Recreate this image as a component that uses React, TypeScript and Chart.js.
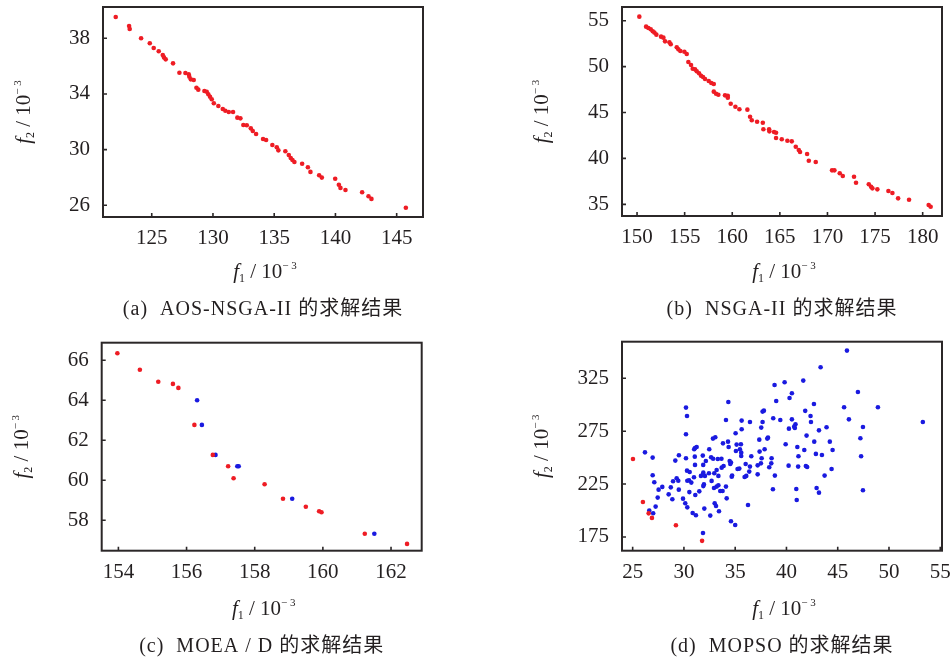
import React, { useEffect, useRef } from "react";
import { Chart, registerables } from "chart.js";

Chart.register(...registerables);

// ---------- data ----------
const aXTicks = [125, 130, 135, 140, 145];
const aYTicks = [26, 30, 34, 38];
const aPoints = [
  [122.06, 39.53], [123.15, 38.88], [123.2, 38.67], [124.13, 38.0], [124.84, 37.64], [125.16, 37.3],
  [125.57, 37.07], [125.9, 36.8], [126.0, 36.63], [126.14, 36.49], [126.74, 36.2], [127.26, 35.53],
  [127.75, 35.51], [128.02, 35.41], [128.07, 35.24], [128.19, 35.05], [128.43, 35.0], [128.65, 34.45],
  [128.8, 34.31], [129.3, 34.21], [129.49, 34.16], [129.62, 33.98], [129.76, 33.8], [129.9, 33.62],
  [130.07, 33.33], [130.44, 33.14], [130.8, 32.92], [131.01, 32.8], [131.29, 32.71], [131.64, 32.71],
  [131.99, 32.3], [132.24, 32.25], [132.48, 31.77], [132.76, 31.75], [133.09, 31.53], [133.25, 31.34],
  [133.52, 31.12], [134.09, 30.77], [134.34, 30.69], [134.85, 30.33], [135.21, 30.17], [135.34, 29.95],
  [135.91, 29.88], [136.19, 29.62], [136.35, 29.4], [136.49, 29.26], [136.65, 29.11], [137.28, 28.99],
  [137.75, 28.73], [137.96, 28.4], [138.67, 28.16], [138.89, 27.99], [139.98, 27.91], [140.28, 27.48],
  [140.41, 27.25], [140.82, 27.1], [142.18, 26.94], [142.7, 26.65], [142.94, 26.46], [145.75, 25.83],
];

const bXTicks = [150, 155, 160, 165, 170, 175, 180];
const bYTicks = [35, 40, 45, 50, 55];
const bPoints = [
  [150.24, 55.44], [150.95, 54.35], [151.19, 54.2], [151.44, 54.06], [151.65, 53.85], [151.82, 53.7],
  [152.03, 53.48], [152.52, 53.26], [152.77, 53.15], [152.94, 52.75], [153.4, 52.65], [153.54, 52.43],
  [154.17, 52.1], [154.34, 51.88], [154.55, 51.7], [154.97, 51.62], [155.22, 51.37], [155.39, 50.5],
  [155.67, 50.17], [155.85, 49.77], [156.09, 49.7], [156.27, 49.49], [156.51, 49.27], [156.72, 49.01],
  [156.93, 48.87], [157.14, 48.65], [157.53, 48.43], [157.8, 48.21], [158.06, 48.1], [158.06, 47.27],
  [158.3, 47.05], [158.54, 46.94], [159.24, 46.87], [159.53, 46.83], [159.53, 46.61], [159.84, 45.96],
  [160.33, 45.63], [160.75, 45.35], [161.59, 45.31], [161.87, 44.54], [162.05, 44.15], [162.61, 44.0],
  [163.21, 43.89], [163.27, 43.17], [163.87, 43.17], [163.9, 42.95], [164.39, 42.88], [164.6, 42.8],
  [164.6, 42.22], [165.2, 42.08], [165.79, 41.93], [166.25, 41.86], [166.67, 41.27], [166.99, 40.91],
  [167.12, 40.7], [167.86, 40.48], [168.04, 39.75], [168.77, 39.61], [170.48, 38.7], [170.73, 38.7],
  [171.29, 38.38], [171.61, 38.08], [172.79, 38.0], [173.0, 37.35], [174.34, 37.18], [174.58, 36.92],
  [174.72, 36.74], [175.24, 36.63], [176.4, 36.45], [176.82, 36.23], [177.42, 35.65], [178.57, 35.5],
  [180.63, 34.92], [180.84, 34.74],
];

const cXTicks = [154, 156, 158, 160, 162];
const cYTicks = [58, 60, 62, 64, 66];
const cRedPoints = [
  [153.97, 66.35], [154.63, 65.53], [155.17, 64.93], [155.6, 64.82], [155.76, 64.62], [156.23, 62.77],
  [156.77, 61.27], [157.22, 60.7], [157.38, 60.1], [158.29, 59.8], [158.83, 59.08], [159.5, 58.68],
  [159.89, 58.45], [159.96, 58.4], [161.23, 57.33], [162.47, 56.82],
];
const cBluePoints = [
  [156.31, 64.0], [156.45, 62.77], [156.85, 61.27], [157.49, 60.7], [157.53, 60.7], [159.1, 59.08],
  [161.51, 57.33],
];

const dXTicks = [25, 30, 35, 40, 45, 50, 55];
const dYTicks = [175, 225, 275, 325];
const dRedPoints = [
  [25.03, 248.7], [26.0, 208.1], [26.56, 197.3], [26.88, 193.0], [29.22, 186.0], [31.77, 171.3],
];
const dBluePoints = [
  [45.9, 351.2], [43.33, 335.4], [41.64, 322.8], [39.82, 321.2], [38.84, 318.7], [46.97, 312.1],
  [40.53, 310.8], [40.3, 306.4], [39.0, 303.6], [34.33, 302.6], [42.68, 300.7], [30.2, 297.3],
  [45.62, 297.6], [48.92, 297.6], [41.83, 294.2], [37.8, 294.4], [37.67, 293.5], [30.3, 289.4],
  [42.35, 289.4], [34.1, 285.6], [35.63, 285.0], [36.44, 283.7], [38.71, 287.2], [39.4, 285.6],
  [40.53, 286.2], [46.09, 286.2], [37.67, 283.7], [42.39, 283.7], [40.88, 281.5], [40.75, 279.3],
  [53.3, 283.7], [40.82, 278.0], [47.46, 279.0], [43.91, 278.7], [40.24, 277.4], [37.54, 278.4],
  [35.63, 276.8], [43.17, 275.8], [35.04, 273.0], [30.2, 272.1], [41.96, 270.8], [38.2, 268.9],
  [38.13, 268.0], [37.35, 267.0], [47.21, 268.3], [44.23, 265.1], [42.71, 265.1], [33.06, 269.2],
  [32.83, 268.0], [34.3, 265.1], [33.81, 263.5], [39.92, 262.6], [35.14, 262.3], [35.56, 262.6],
  [31.08, 259.1], [31.0, 257.9], [31.24, 260.1], [34.36, 260.1], [41.06, 260.1], [26.2, 255.0],
  [32.47, 257.9], [35.46, 257.9], [35.59, 254.7], [35.07, 256.3], [37.38, 255.7], [37.87, 257.9],
  [41.74, 257.2], [44.5, 257.2], [43.46, 252.5], [42.87, 253.5], [41.17, 251.3], [47.28, 251.3],
  [29.51, 252.2], [26.95, 250.0], [30.2, 249.4], [29.16, 247.2], [31.06, 250.9], [31.84, 251.9],
  [32.65, 250.3], [32.85, 249.0], [33.3, 248.7], [33.66, 249.0], [34.46, 246.8], [34.59, 245.3],
  [34.52, 244.0], [35.59, 251.6], [36.57, 251.3], [37.58, 249.4], [38.55, 249.4], [38.52, 244.6],
  [37.51, 244.6], [36.02, 244.0], [36.44, 241.5], [37.19, 242.7], [38.32, 240.9], [40.21, 242.4],
  [41.14, 241.5], [41.89, 242.1], [42.02, 241.2], [33.87, 242.1], [33.68, 240.5], [33.19, 238.3],
  [31.08, 243.1], [31.88, 243.1], [32.14, 246.8], [35.23, 239.3], [35.4, 239.6], [36.08, 232.7],
  [35.92, 231.7], [44.4, 239.3], [43.72, 233.0], [38.87, 233.0], [37.19, 234.2], [36.37, 236.8],
  [34.7, 233.0], [34.66, 232.0], [33.36, 232.7], [32.96, 235.2], [32.44, 235.2], [31.89, 235.8],
  [32.05, 232.7], [31.66, 232.7], [31.86, 233.9], [30.3, 237.7], [30.56, 236.4], [30.98, 231.4],
  [30.5, 228.6], [30.33, 228.2], [30.72, 226.4], [29.29, 230.5], [29.45, 228.2], [28.94, 227.6],
  [29.5, 219.7], [28.72, 221.9], [27.89, 222.3], [26.95, 233.3], [27.11, 226.7], [27.53, 219.7],
  [28.51, 215.3], [28.87, 210.6], [27.44, 212.2], [27.24, 203.7], [26.62, 199.9], [27.0, 197.4],
  [29.91, 211.2], [30.13, 206.8], [30.33, 203.0], [31.11, 214.6], [31.5, 218.1], [30.53, 217.4],
  [30.85, 197.7], [31.17, 195.5], [31.99, 201.8], [32.57, 195.2], [31.86, 178.8], [33.0, 206.8],
  [33.13, 204.3], [33.42, 199.3], [32.93, 221.3], [33.19, 222.6], [33.54, 218.4], [33.77, 218.4],
  [34.1, 222.6], [33.36, 223.9], [32.7, 228.0], [31.89, 223.1], [31.95, 224.7], [34.17, 211.5],
  [36.25, 205.2], [34.59, 189.8], [35.0, 186.3], [38.68, 220.1], [40.96, 220.4], [41.0, 210.0],
  [42.94, 221.3], [43.17, 216.9], [47.46, 219.1],
];

const captions = [
  "(a)  AOS-NSGA-II 的求解结果",
  "(b)  NSGA-II 的求解结果",
  "(c)  MOEA / D 的求解结果",
  "(d)  MOPSO 的求解结果",
];

// ---------- styles ----------
const RED = "#ee1c24";
const BLUE = "#1a1ae0";
const INK = "#231f20";
const FRAME = "#2b2728";
const SERIF = '"Liberation Serif", "Times New Roman", serif';
const CAP_FONT = '"Liberation Serif", "Noto Sans CJK SC", serif';

type Series = { data: number[][]; color: string };
type PanelCfg = {
  x: number; y: number; w: number; h: number;
  area: { l: number; r: number; t: number; b: number };
  xr: [number, number]; yr: [number, number];
  xTicks: number[]; yTicks: number[];
  series: Series[];
  caption: string; capDy: number; xtDy: number; ytDx: number;
};

const panels: PanelCfg[] = [
  {
    x: 0, y: 0, w: 476, h: 330, area: { l: 103, r: 423, t: 7, b: 217 },
    xr: [121.02, 147.15], yr: [25.16, 40.25], xTicks: aXTicks, yTicks: aYTicks,
    series: [{ data: aPoints, color: RED }], caption: captions[0], capDy: 98, xtDy: 61, ytDx: 73,
  },
  {
    x: 476, y: 0, w: 476, h: 330, area: { l: 146, r: 466, t: 7, b: 216 },
    xr: [148.42, 182.03], yr: [33.73, 56.49], xTicks: bXTicks, yTicks: bYTicks,
    series: [{ data: bPoints, color: RED }], caption: captions[1], capDy: 99, xtDy: 62, ytDx: 74,
  },
  {
    x: 0, y: 330, w: 476, h: 329, area: { l: 101.7, r: 421.7, t: 12.7, b: 220.7 },
    xr: [153.51, 162.9], yr: [56.48, 66.88], xTicks: cXTicks, yTicks: cYTicks,
    series: [{ data: cRedPoints, color: RED }, { data: cBluePoints, color: BLUE }],
    caption: captions[2], capDy: 101, xtDy: 64, ytDx: 74,
  },
  {
    x: 476, y: 330, w: 476, h: 329, area: { l: 146, r: 466, t: 11.7, b: 220.7 },
    xr: [23.96, 55.17], yr: [162, 359.6], xTicks: dXTicks, yTicks: dYTicks,
    series: [{ data: dRedPoints, color: RED }, { data: dBluePoints, color: BLUE }],
    caption: captions[3], capDy: 101, xtDy: 64, ytDx: 74,
  },
];

type Seg = { t: string; f: string; dy: number };
const titleSegs = (n: string): Seg[] => [
  { t: "f", f: `italic 21px ${SERIF}`, dy: 0 },
  { t: n, f: `12px ${SERIF}`, dy: 4 },
  { t: " / 10", f: `21px ${SERIF}`, dy: 0 },
  { t: "\u2212 3", f: `11px ${SERIF}`, dy: -9 },
];

function drawSegs(ctx: CanvasRenderingContext2D, segs: Seg[], cx: number, y: number) {
  let total = 0;
  for (const s of segs) {
    ctx.font = s.f;
    total += ctx.measureText(s.t).width;
  }
  let x = cx - total / 2;
  for (const s of segs) {
    ctx.font = s.f;
    ctx.fillText(s.t, x, y + s.dy);
    x += ctx.measureText(s.t).width;
  }
}

function makeFramePlugin(cfg: PanelCfg) {
  return {
    id: "frameAndTitles",
    afterDatasetsDraw(chart: any) {
      const { ctx, chartArea: a, scales } = chart;
      ctx.save();
      // inward tick marks
      ctx.strokeStyle = FRAME;
      ctx.lineWidth = 1.6;
      ctx.beginPath();
      for (const t of scales.x.ticks) {
        const px = scales.x.getPixelForValue(t.value);
        ctx.moveTo(px, a.bottom);
        ctx.lineTo(px, a.bottom - 4);
      }
      for (const t of scales.y.ticks) {
        const py = scales.y.getPixelForValue(t.value);
        ctx.moveTo(a.left, py);
        ctx.lineTo(a.left + 4, py);
      }
      ctx.stroke();
      // frame
      ctx.lineWidth = 2;
      ctx.strokeRect(a.left, a.top, a.right - a.left, a.bottom - a.top);
      // axis titles
      ctx.fillStyle = INK;
      ctx.textBaseline = "alphabetic";
      ctx.textAlign = "left";
      const cx = (a.left + a.right) / 2;
      const cy = (a.top + a.bottom) / 2;
      drawSegs(ctx, titleSegs("1"), cx + 2, a.bottom + cfg.xtDy);
      ctx.save();
      ctx.translate(a.left - cfg.ytDx, cy);
      ctx.rotate(-Math.PI / 2);
      drawSegs(ctx, titleSegs("2"), 0, 0);
      ctx.restore();
      // caption
      ctx.font = `20px ${CAP_FONT}`;
      (ctx as any).letterSpacing = "1px";
      ctx.textAlign = "center";
      ctx.fillText(cfg.caption, cx, a.bottom + cfg.capDy);
      ctx.restore();
    },
  };
}

const X_AXIS_H = 40;
const Y_AXIS_W = 60;

function Panel({ cfg }: { cfg: PanelCfg }) {
  const ref = useRef<HTMLCanvasElement | null>(null);
  useEffect(() => {
    const canvas = ref.current;
    if (!canvas) return;
    const tickFont = { family: SERIF, size: 21 };
    const chart = new Chart(canvas, {
      type: "scatter",
      data: {
        datasets: cfg.series.map((s, i) => ({
          label: "s" + i,
          data: s.data.map(([x, y]) => ({ x, y })),
          backgroundColor: s.color,
          borderColor: s.color,
          pointRadius: 2.3,
          pointBorderWidth: 0,
          pointHoverRadius: 2.3,
        })),
      },
      options: {
        responsive: false,
        animation: false,
        events: [],
        layout: {
          padding: {
            left: cfg.area.l - Y_AXIS_W,
            right: cfg.w - cfg.area.r,
            top: cfg.area.t,
            bottom: cfg.h - cfg.area.b - X_AXIS_H,
          },
        },
        plugins: { legend: { display: false }, tooltip: { enabled: false }, title: { display: false } },
        scales: {
          x: {
            type: "linear",
            min: cfg.xr[0],
            max: cfg.xr[1],
            grid: { display: false, drawTicks: false },
            border: { display: false },
            ticks: { font: tickFont, color: INK, padding: 9, autoSkip: false, maxRotation: 0 },
            afterBuildTicks: (s: any) => { s.ticks = cfg.xTicks.map((v) => ({ value: v })); },
            afterFit: (s: any) => {
              s.height = X_AXIS_H;
              s.paddingLeft = 0; s.paddingRight = 0; s.paddingTop = 0; s.paddingBottom = 0;
            },
          },
          y: {
            type: "linear",
            min: cfg.yr[0],
            max: cfg.yr[1],
            grid: { display: false, drawTicks: false },
            border: { display: false },
            ticks: { font: tickFont, color: INK, padding: 13, autoSkip: false },
            afterBuildTicks: (s: any) => { s.ticks = cfg.yTicks.map((v) => ({ value: v })); },
            afterFit: (s: any) => {
              s.width = Y_AXIS_W;
              s.paddingLeft = 0; s.paddingRight = 0; s.paddingTop = 0; s.paddingBottom = 0;
            },
          },
        },
      } as any,
      plugins: [makeFramePlugin(cfg)],
    });
    return () => chart.destroy();
  }, [cfg]);
  return (
    <div style={{ position: "absolute", left: cfg.x, top: cfg.y, width: cfg.w, height: cfg.h }}>
      <canvas ref={ref} width={cfg.w} height={cfg.h} style={{ width: cfg.w, height: cfg.h, display: "block" }} />
    </div>
  );
}

export default function App() {
  return (
    <div style={{ position: "absolute", left: 0, top: 0, width: 952, height: 659, background: "#ffffff", overflow: "hidden" }}>
      {panels.map((p, i) => (
        <Panel key={i} cfg={p} />
      ))}
    </div>
  );
}
